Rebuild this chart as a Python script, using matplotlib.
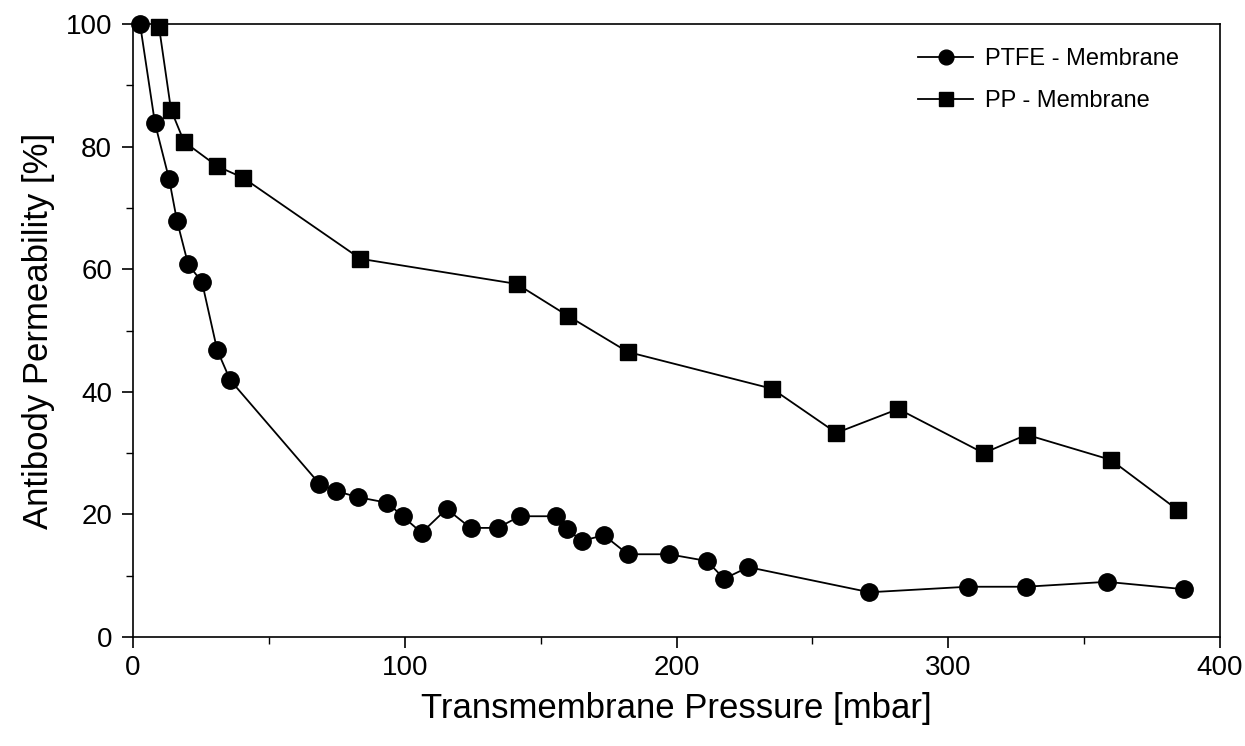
import matplotlib
matplotlib.use("Agg")
import matplotlib.pyplot as plt
from matplotlib.ticker import MultipleLocator

plt.rcParams['font.family'] = ['Liberation Sans', 'DejaVu Sans']

ptfe_x = [2.6, 8.1, 13.3, 16.2, 20.3, 25.4, 31.0, 35.8, 68.6, 74.8, 82.9, 93.6,
          99.2, 106.2, 115.4, 124.2, 134.2, 142.3, 155.6, 159.6, 165.2, 173.3,
          182.1, 197.2, 211.2, 217.5, 226.4, 271.0, 307.1, 328.5, 358.3, 386.7]
ptfe_y = [100, 83.8, 74.7, 67.9, 60.8, 57.9, 46.8, 41.9, 25.0, 23.8, 22.8, 21.9,
          19.7, 17.0, 20.9, 17.8, 17.8, 19.7, 19.7, 17.6, 15.7, 16.6,
          13.5, 13.5, 12.4, 9.5, 11.4, 7.3, 8.2, 8.2, 9.0, 7.8]

pp_x = [9.6, 14.0, 18.8, 31.0, 40.6, 83.7, 141.2, 160.0, 182.1, 235.2, 258.8,
        281.6, 313.0, 328.8, 359.8, 384.5]
pp_y = [99.5, 86.0, 80.8, 76.8, 74.9, 61.7, 57.6, 52.4, 46.5, 40.5, 33.3,
        37.2, 30.0, 33.0, 28.9, 20.7]

fig = plt.figure(figsize=(12.45, 7.46), dpi=100)
ax = fig.add_axes([0.1068, 0.1461, 0.8732, 0.8217])

ax.plot(ptfe_x, ptfe_y, '-o', color='black', lw=1.3, ms=12.5,
        label='PTFE - Membrane', clip_on=False, zorder=3)
ax.plot(pp_x, pp_y, '-s', color='black', lw=1.3, ms=12,
        label='PP - Membrane', clip_on=False, zorder=3)

ax.set_xlim(0, 400)
ax.set_ylim(0, 100)
ax.xaxis.set_major_locator(MultipleLocator(100))
ax.xaxis.set_minor_locator(MultipleLocator(50))
ax.yaxis.set_major_locator(MultipleLocator(20))
ax.yaxis.set_minor_locator(MultipleLocator(10))
ax.tick_params(which='major', direction='out', length=8, width=1.2,
               labelsize=20, pad=7)
ax.tick_params(axis='x', which='major', pad=5)
ax.tick_params(which='minor', direction='out', length=5, width=1.0)
for s in ax.spines.values():
    s.set_linewidth(1.2)

ax.set_xlabel('Transmembrane Pressure [mbar]', fontsize=25, labelpad=8)
ax.set_ylabel('Antibody Permeability [%]', fontsize=25, labelpad=8)

ax.legend(loc='upper left', bbox_to_anchor=(0.703, 0.995), frameon=False,
          fontsize=17, handlelength=2.3, handletextpad=0.5, labelspacing=0.85,
          markerscale=0.85)

fig.savefig('out.png', dpi=100)
